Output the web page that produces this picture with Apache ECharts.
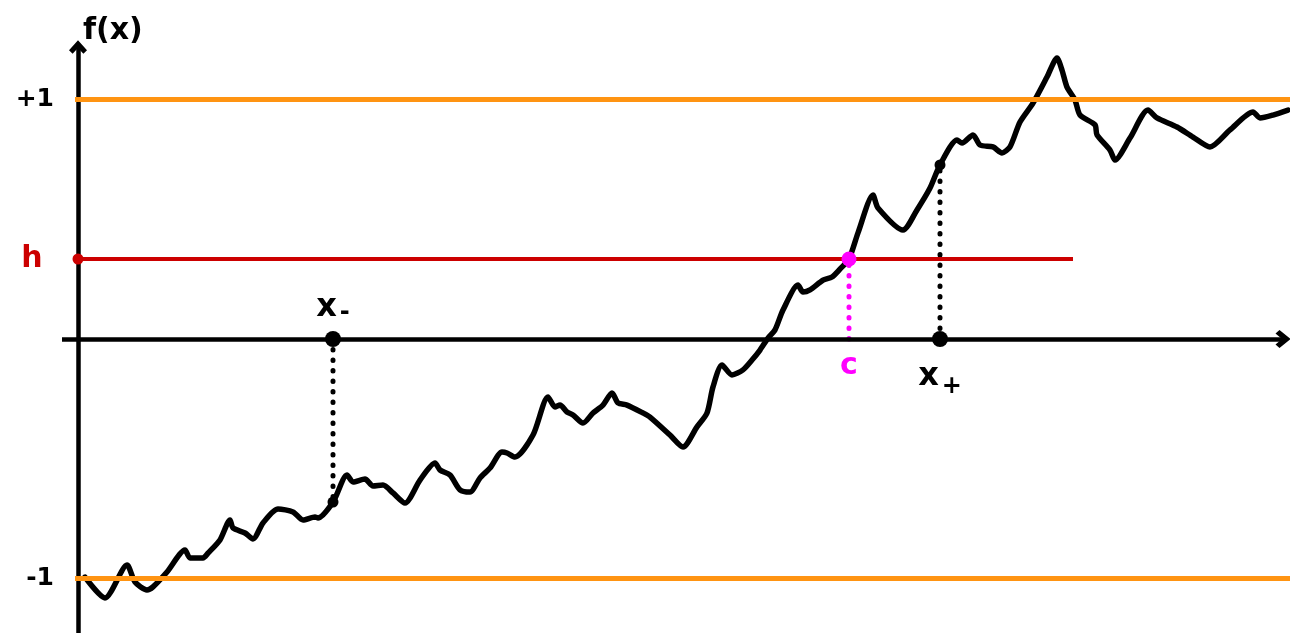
<!DOCTYPE html>
<html><head><meta charset="utf-8">
<script src="https://cdn.jsdelivr.net/npm/echarts@6/dist/echarts.min.js"></script>
<style>html,body{margin:0;padding:0;background:#fff}#c{width:1290px;height:633px}</style>
</head><body><div id="c"></div>
<script>
// curve samples (x in horizontal units, y in f(x) units)
const curveX = [7,27,49,57,69,75,89,107,112,125,130,142,152,155,167,175,185,200,215,225,237,240,255,269,275,287,295,305,315,327,342,357,362,372,382,392,402,412,424,429,437,455,470,477,482,489,495,505,515,525,534,540,549,565,572,592,605,619,629,635,644,654,665,674,682,690,697,705,720,725,732,745,754,762,771,780,795,800,825,839,852,862,879,884,895,902,915,924,932,942,955,969,979,984,989,997,1002,1017,1019,1032,1037,1052,1070,1079,1099,1115,1132,1152,1175,1182,1195,1210];
const curveY = [-0.994,-1.081,-0.944,-1.015,-1.048,-1.035,-0.973,-0.881,-0.914,-0.914,-0.894,-0.839,-0.756,-0.789,-0.810,-0.835,-0.768,-0.710,-0.722,-0.756,-0.743,-0.747,-0.681,-0.568,-0.597,-0.585,-0.614,-0.610,-0.643,-0.685,-0.589,-0.518,-0.547,-0.568,-0.630,-0.639,-0.580,-0.539,-0.472,-0.476,-0.493,-0.401,-0.242,-0.284,-0.276,-0.305,-0.317,-0.351,-0.309,-0.276,-0.225,-0.267,-0.276,-0.309,-0.326,-0.401,-0.451,-0.367,-0.309,-0.200,-0.109,-0.150,-0.129,-0.088,-0.046,0.004,0.038,0.121,0.225,0.196,0.205,0.246,0.259,0.292,0.334,0.443,0.601,0.547,0.455,0.539,0.630,0.727,0.831,0.818,0.852,0.810,0.802,0.777,0.802,0.906,0.985,1.094,1.173,1.123,1.052,0.998,0.935,0.894,0.852,0.789,0.747,0.839,0.956,0.923,0.885,0.843,0.802,0.873,0.948,0.923,0.935,0.956];
const bounds = [1, -1];
const boundLabels = ['+1', '-1'];
const hValue = 0.334;
const hLabel = 'h';
const hLineEnd = 995;
const xMinus = 255, yMinus = -0.681;
const xPlus = 862, yPlus = 0.727;
const cX = 771;
const xRange = [-78, 1212];
const yRange = [-1.2276, 1.2192];
const xAxisSpan = [-16, 1205];

const ORANGE = '#FF9412', RED = '#CC0000', MAGENTA = '#FF00FF', BLACK = '#000';
const FONT = '"DejaVu Sans", "Noto Sans", sans-serif';
const chevron = 'path://M0,11 L10,0 L20,11 L16,15 L10,8.5 L4,15 Z';

const curve = curveX.map((x, i) => [x, curveY[i]]);
const boundLabelPts = bounds.map((b, i) => ({
  value: [0, b], symbolSize: 0,
  label: {show: true, position: 'left', distance: 24, formatter: boundLabels[i], fontSize: 25, fontWeight: 'bold', fontFamily: FONT, color: BLACK}
}));
const sub = (size, pad) => ({fontSize: size, fontWeight: 'bold', fontFamily: FONT, color: BLACK, padding: [pad, 0, 0, 3]});
const big = {fontSize: 32, fontWeight: 'bold', fontFamily: FONT, color: BLACK};

const chart = echarts.init(document.getElementById('c'), null, {renderer: 'canvas'});
chart.setOption({
  animation: false,
  backgroundColor: '#fff',
  grid: {left: 0, right: 0, top: 47, bottom: 0, containLabel: false, outerBoundsMode: 'none'},
  xAxis: {type: 'value', min: xRange[0], max: xRange[1], show: false},
  yAxis: {
    type: 'value', min: yRange[0], max: yRange[1],
    name: 'f(x)', nameLocation: 'end', nameGap: 1,
    nameTextStyle: {fontFamily: FONT, fontSize: 30, fontWeight: 'bold', color: BLACK, align: 'left', verticalAlign: 'bottom', padding: [0, 0, 0, 5]},
    axisLine: {show: true, onZero: true, symbol: ['none', chevron], symbolSize: [18, 15], lineStyle: {color: BLACK, width: 4.5}},
    axisTick: {show: false},
    splitLine: {show: false},
    axisLabel: {show: false}
  },
  series: [
    { // orange bounds and red h-line
      type: 'line', data: [], silent: true, z: 1,
      markLine: {
        silent: true, symbol: ['none', 'none'], animation: false,
        label: {show: false},
        data: [
          [{coord: [-3, bounds[0]], lineStyle: {color: ORANGE, width: 5, type: 'solid'}}, {coord: [xRange[1], bounds[0]]}],
          [{coord: [-3, bounds[1]], lineStyle: {color: ORANGE, width: 5, type: 'solid'}}, {coord: [xRange[1], bounds[1]]}],
          [{coord: [0, hValue], lineStyle: {color: RED, width: 4, type: 'solid'}}, {coord: [hLineEnd, hValue]}]
        ]
      }
    },
    { // horizontal axis with arrow
      type: 'line', data: [], silent: true, z: 3,
      markLine: {
        silent: true, symbol: ['none', chevron], symbolSize: [18, 15], animation: false,
        label: {show: false},
        lineStyle: {color: BLACK, width: 4.5, type: 'solid'},
        data: [[{coord: [xAxisSpan[0], 0]}, {coord: [xAxisSpan[1], 0]}]]
      }
    },
    { // dotted drop lines
      type: 'line', data: [[xMinus, 0], [xMinus, yMinus]], showSymbol: false, z: 2,
      lineStyle: {color: BLACK, width: 5, type: [0.5, 10], cap: 'round'}
    },
    {
      type: 'line', data: [[xPlus, 0], [xPlus, yPlus]], showSymbol: false, z: 2,
      lineStyle: {color: BLACK, width: 5, type: [0.5, 10], cap: 'round'}
    },
    {
      type: 'line', data: [[cX, 0], [cX, hValue]], showSymbol: false, z: 2,
      lineStyle: {color: MAGENTA, width: 5, type: [0.5, 10], cap: 'round'}
    },
    { // the curve
      type: 'line', data: curve, showSymbol: false, smooth: 0.25, z: 4,
      lineStyle: {color: BLACK, width: 5.5, join: 'round', cap: 'round'}
    },
    { // points and labels
      type: 'scatter', z: 6,
      itemStyle: {opacity: 1},
      data: boundLabelPts.concat([
        {value: [xMinus, 0], symbolSize: 16, itemStyle: {color: BLACK, opacity: 1},
          label: {show: true, position: 'top', distance: 6, formatter: '{x|x}{s|-}', rich: {x: big, s: sub(24, 10)}}},
        {value: [xMinus, yMinus], symbolSize: 11, itemStyle: {color: BLACK, opacity: 1}},
        {value: [xPlus, 0], symbolSize: 16, itemStyle: {color: BLACK, opacity: 1},
          label: {show: true, position: 'bottom', distance: 8, formatter: '{x|x}{s|+}', rich: {x: big, s: sub(24, 20)}}},
        {value: [xPlus, yPlus], symbolSize: 11, itemStyle: {color: BLACK, opacity: 1}},
        {value: [cX, hValue], symbolSize: 15, itemStyle: {color: MAGENTA, opacity: 1}},
        {value: [cX, 0], symbolSize: 0, itemStyle: {color: MAGENTA, opacity: 1},
          label: {show: true, position: 'bottom', distance: 12, formatter: 'c', fontSize: 30, fontWeight: 'bold', fontFamily: FONT, color: MAGENTA}},
        {value: [0, hValue], symbolSize: 11, itemStyle: {color: RED, opacity: 1},
          label: {show: true, position: 'left', distance: 30, formatter: hLabel, fontSize: 30, fontWeight: 'bold', fontFamily: FONT, color: RED}}
      ])
    }
  ]
});
</script>
</body></html>
